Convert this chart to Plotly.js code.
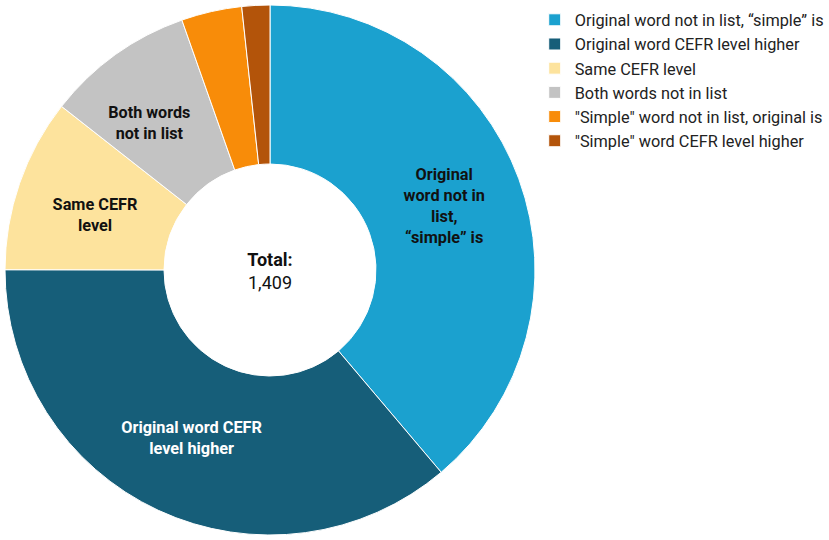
<!DOCTYPE html>
<html>
<head>
<meta charset="utf-8">
<script src="https://cdn.plot.ly/plotly-3.0.1.min.js"></script>
<style>
  html, body { margin: 0; padding: 0; background: #fff; }
  #chart { width: 829px; height: 540px; }
</style>
</head>
<body>
<div id="chart"></div>
<script>
// slice categories, in clockwise order from 12 o'clock
const categories = [
  'Original word not in list, \u201csimple\u201d is',
  'Original word CEFR level higher',
  'Same CEFR level',
  'Both words not in list',
  '"Simple" word not in list, original is',
  '"Simple" word CEFR level higher'
];

// counts (total 1,409)
const counts = [547, 510, 149, 127, 52, 24];

// labels drawn inside the slices (the two small slices have none);
// blank lines / padding nudge two labels toward the hole
const pad = '\u00a0'.repeat(7);
const sliceLabels = [
  'Original<br>word not in<br>list,<br>\u201csimple\u201d is',
  'Original word CEFR<br>level higher',
  '\u00a0<br>' + pad + 'Same CEFR<br>' + pad + 'level',
  '\u00a0<br>\u00a0<br>Both words<br>not in list',
  '',
  ''
];

const colors = ['#1ba1cf', '#165e79', '#fde39d', '#c3c3c3', '#f88c09', '#b3540a'];
const labelColors = ['#111', '#ffffff', '#111', '#111', '#111', '#111'];

const total = counts.reduce((a, b) => a + b, 0);

const data = [{
  type: 'pie',
  labels: categories,
  values: counts,
  text: sliceLabels,
  textinfo: 'text',
  textposition: 'inside',
  insidetextorientation: 'horizontal',
  insidetextfont: { family: 'Roboto', size: 16.3, color: labelColors, weight: 'bold' },
  hole: 0.4,
  sort: false,
  direction: 'clockwise',
  rotation: 0,
  marker: { colors: colors, line: { color: '#ffffff', width: 1 } },
  domain: { x: [5 / 829, 535 / 829], y: [5 / 540, 535 / 540] },
  title: {
    text: '<b>Total:</b><br>' + total.toLocaleString('en-US'),
    position: 'middle center',
    font: { family: 'Roboto', size: 18, color: '#111' }
  },
  hoverinfo: 'label+value+percent'
}];

const layout = {
  width: 829,
  height: 540,
  margin: { l: 0, r: 0, t: 0, b: 0 },
  paper_bgcolor: '#ffffff',
  showlegend: true,
  legend: {
    x: 0.645,
    xanchor: 'left',
    y: 0.995,
    yanchor: 'top',
    font: { family: 'Roboto', size: 16.3, color: '#222' },
    tracegroupgap: 0
  }
};

Plotly.newPlot('chart', data, layout, { displayModeBar: false });
</script>
</body>
</html>
